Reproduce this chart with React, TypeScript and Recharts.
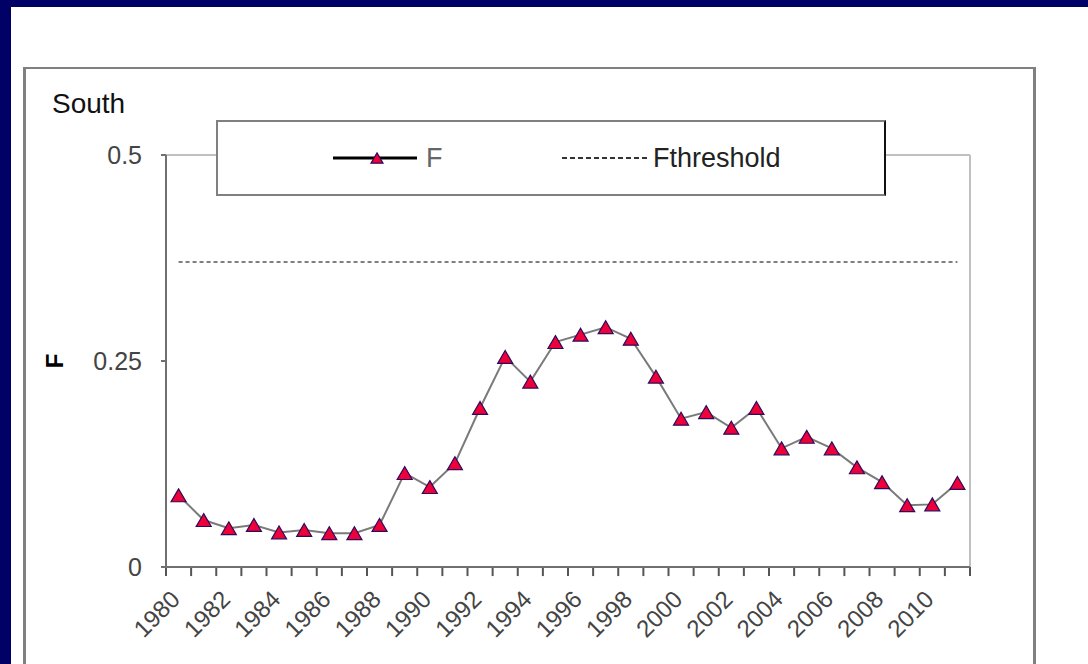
import React from "react";
import { LineChart, Line, XAxis, YAxis, ReferenceLine, Legend } from "recharts";

const years = [
  1980, 1981, 1982, 1983, 1984, 1985, 1986, 1987, 1988, 1989, 1990, 1991, 1992, 1993, 1994, 1995,
  1996, 1997, 1998, 1999, 2000, 2001, 2002, 2003, 2004, 2005, 2006, 2007, 2008, 2009, 2010, 2011,
];
const fValues = [
  0.087, 0.057, 0.047, 0.051, 0.042, 0.045, 0.041, 0.041, 0.051, 0.114, 0.097, 0.126, 0.193, 0.255, 0.225, 0.273,
  0.282, 0.291, 0.277, 0.231, 0.18, 0.188, 0.169, 0.193, 0.144, 0.158, 0.144, 0.121, 0.103, 0.075, 0.076, 0.102,
];
const fThreshold = 0.37;
const yearLabels = [1980, 1982, 1984, 1986, 1988, 1990, 1992, 1994, 1996, 1998, 2000, 2002, 2004, 2006, 2008, 2010];
const yTicks = [0, 0.25, 0.5];
const yTickLabels = ["0", "0.25", "0.5"];

// tick marks sit between the years, like the Excel original
const yearEdges = [...years.map((y) => y - 0.5), years[years.length - 1] + 0.5];
const tickDepth = -0.011; // how far below zero a tick mark reaches

const data = years.map((year, i) => ({ year, f: fValues[i] }));

const FONT = "'Liberation Sans', Arial, sans-serif";
const NAVY = "#000066";
const AXIS = "#707070";
const MARKER_FILL = "#ee0038";
const MARKER_EDGE = "#2e0a5c";

const Triangle = ({ cx, cy, size = 15 }: { cx: number; cy: number; size?: number }) => {
  const h = size * 0.86;
  return (
    <polygon
      points={`${cx},${cy - h / 2} ${cx + size / 2},${cy + h / 2} ${cx - size / 2},${cy + h / 2}`}
      fill={MARKER_FILL}
      stroke={MARKER_EDGE}
      strokeWidth={1.2}
    />
  );
};

const YearTick = ({ x, y, payload }: any) => (
  <text
    x={x - 3}
    y={y}
    dy="0.35em"
    transform={`rotate(-45, ${x - 3}, ${y})`}
    textAnchor="end"
    fontSize={24}
    fontFamily={FONT}
    fill="#444"
  >
    {payload.value}
  </text>
);

const LegendBox = () => (
  <div
    style={{
      width: 670,
      height: 76,
      boxSizing: "border-box",
      border: "2px solid #808080",
      borderRightColor: "#111",
      background: "#fff",
    }}
  >
    <svg width={666} height={72}>
      <line x1={115} y1={36} x2={199} y2={36} stroke="#000" strokeWidth={3} />
      <Triangle cx={159} cy={36} size={12} />
      <text x={208} y={36} dy="0.35em" fontSize={27} fontFamily={FONT} fill="#666">
        F
      </text>
      <line x1={344} y1={36} x2={430} y2={36} stroke="#333" strokeWidth={2} strokeDasharray="5 3" />
      <text x={435} y={36} dy="0.35em" fontSize={27} fontFamily={FONT} fill="#222">
        Fthreshold
      </text>
    </svg>
  </div>
);

const YLabel = ({ viewBox }: any) => {
  const x = viewBox.x + 9;
  const y = viewBox.y + viewBox.height / 2;
  return (
    <text
      x={x}
      y={y}
      transform={`rotate(-90, ${x}, ${y})`}
      textAnchor="middle"
      dy="0.35em"
      fontSize={24}
      fontWeight="bold"
      fontFamily={FONT}
      fill="#000"
    >
      F
    </text>
  );
};

export default function App() {
  return (
    <div style={{ position: "absolute", left: 0, top: 0, width: 1088, height: 664, background: NAVY, overflow: "hidden" }}>
      <div style={{ position: "absolute", left: 11, top: 7, right: 0, bottom: 0, background: "#fff" }} />
      <div
        style={{
          position: "absolute",
          left: 23,
          top: 67,
          width: 1013,
          height: 620,
          boxSizing: "border-box",
          borderTop: "2px solid #808080",
          borderLeft: "3px solid #808080",
          borderRight: "3px solid #808080",
        }}
      />
      <div
        style={{
          position: "absolute",
          left: 52,
          top: 88,
          fontSize: 28,
          fontFamily: FONT,
          color: "#111",
        }}
      >
        South
      </div>
      <div style={{ position: "absolute", left: 0, top: 0 }}>
        <LineChart width={1088} height={664} data={data} margin={{ top: 155, right: 118, bottom: 37, left: 46 }}>
          <XAxis
            xAxisId="years"
            dataKey="year"
            type="number"
            domain={[1979.5, 2011.5]}
            ticks={yearLabels}
            interval={0}
            tick={<YearTick />}
            tickLine={false}
            axisLine={{ stroke: AXIS, strokeWidth: 2 }}
            tickSize={0}
            tickMargin={28}
            height={60}
          />
          <YAxis
            domain={[0, 0.5]}
            ticks={yTicks}
            tickFormatter={(v: number) => yTickLabels[yTicks.indexOf(v)]}
            width={120}
            tickSize={5}
            tickMargin={19}
            axisLine={{ stroke: AXIS, strokeWidth: 2 }}
            tickLine={{ stroke: AXIS, strokeWidth: 2 }}
            tick={{ fontSize: 25, fontFamily: FONT, fill: "#444" }}
            label={<YLabel />}
          />
          <ReferenceLine xAxisId="years" y={0.5} stroke="#c0c0c0" strokeWidth={2} />
          <ReferenceLine xAxisId="years" x={2011.5} stroke="#c0c0c0" strokeWidth={2} />
          {yearEdges.map((e) => (
            <ReferenceLine
              key={e}
              xAxisId="years"
              segment={[
                { x: e, y: 0 },
                { x: e, y: tickDepth },
              ]}
              ifOverflow="visible"
              stroke="#555"
              strokeWidth={2}
            />
          ))}
          <ReferenceLine
            xAxisId="years"
            segment={[
              { x: years[0], y: fThreshold },
              { x: years[years.length - 1], y: fThreshold },
            ]}
            stroke="#555"
            strokeWidth={1.5}
            strokeDasharray="4 3"
          />
          <Line
            xAxisId="years"
            dataKey="f"
            stroke="#7a7a7a"
            strokeWidth={2}
            isAnimationActive={false}
            dot={({ cx, cy, index }: any) => <Triangle key={index} cx={cx} cy={cy} />}
            activeDot={false}
          />
          <Legend
            layout="horizontal"
            verticalAlign="middle"
            align="center"
            wrapperStyle={{ left: 216, top: 120, width: 670, height: 76 }}
            content={<LegendBox />}
          />
        </LineChart>
      </div>
    </div>
  );
}
